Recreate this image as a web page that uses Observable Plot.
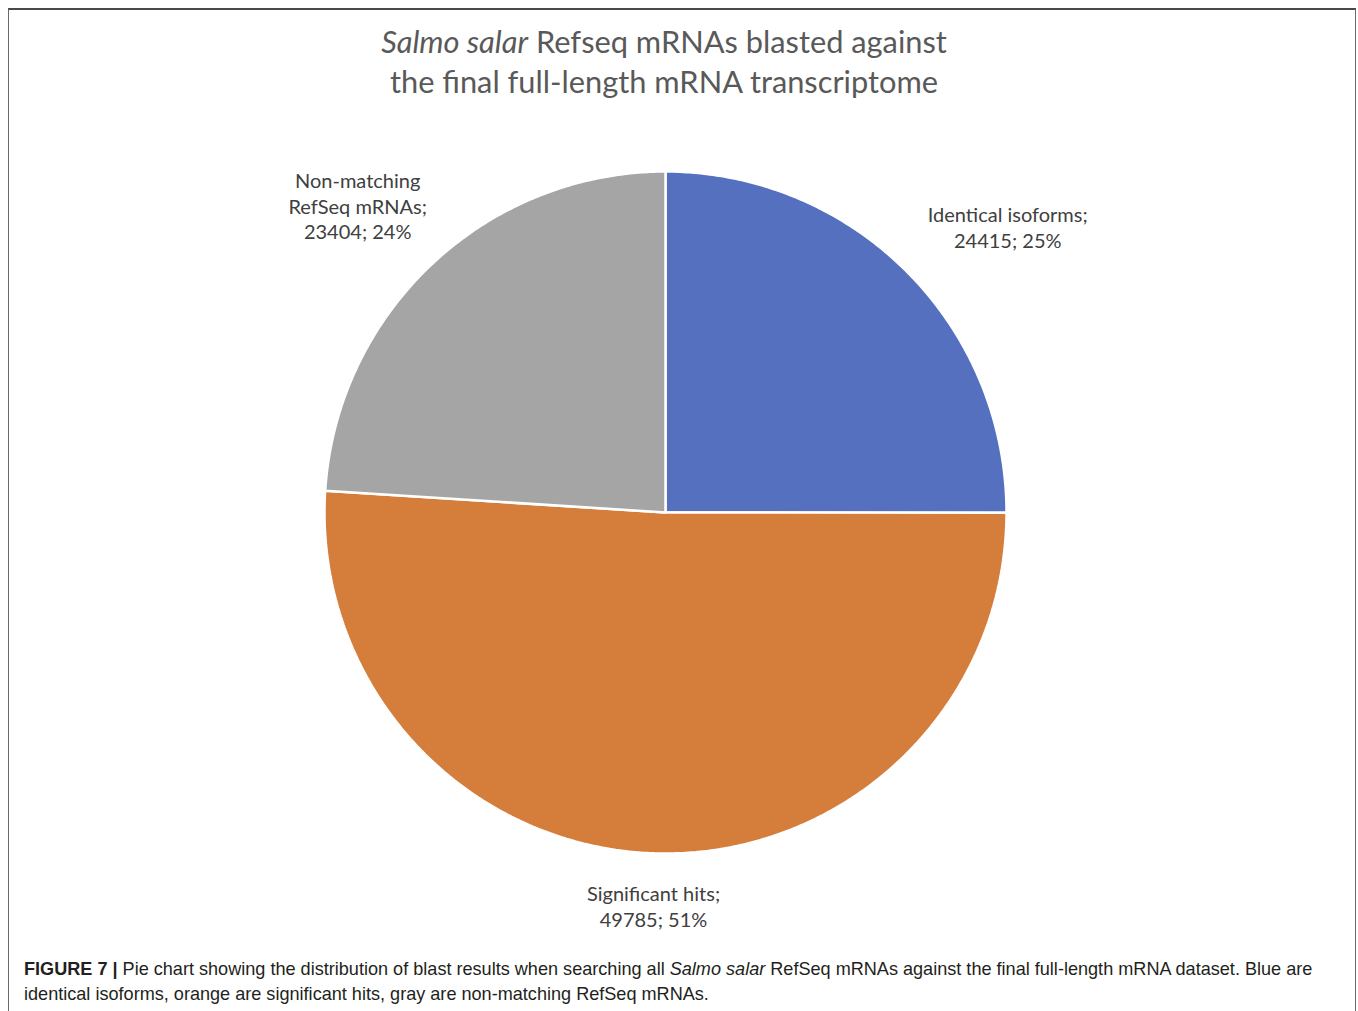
<!DOCTYPE html>
<html>
<head>
<meta charset="utf-8">
<script src="https://cdn.jsdelivr.net/npm/d3@7"></script>
<script src="https://cdn.jsdelivr.net/npm/@observablehq/plot@0.6"></script>
<style>
  html, body { margin: 0; padding: 0; background: #fff; }
  body { width: 1358px; height: 1011px; position: relative; overflow: hidden; }
  #frame { position: absolute; left: 8px; top: 8px; width: 1348px; height: 1020px;
           border: 1.5px solid #6a6a6a; border-top: 2px solid #4a4a4a; border-bottom: none; box-sizing: border-box; }
  #title { position: absolute; left: 0; top: 22px; width: 1328px; text-align: center;
           font-family: Lato, "Open Sans", sans-serif; font-size: 30.8px; line-height: 40px; color: #595959; }
  #chart { position: absolute; left: 0; top: 120px; }
  #caption { position: absolute; left: 24px; top: 957px; width: 1300px;
             font-family: "Liberation Sans", Arial, sans-serif; font-size: 18.1px; line-height: 25px; color: #231f20; }
</style>
</head>
<body>
<div id="frame"></div>
<div id="title"><i>Salmo salar</i> Refseq mRNAs blasted against<br>the final full-length mRNA transcriptome</div>
<div id="chart"></div>
<div id="caption"><b>FIGURE 7 |</b> Pie chart showing the distribution of blast results when searching all <i>Salmo salar</i> RefSeq mRNAs against the final full-length mRNA dataset. Blue are<br>identical isoforms, orange are significant hits, gray are non-matching RefSeq mRNAs.</div>
<script>
const categories = ["Identical isoforms", "Significant hits", "Non-matching RefSeq mRNAs"];
const counts = [24415, 49785, 23404];
const percents = [25, 51, 24];
const labelNames = [["Identical isoforms;"], ["Significant hits;"], ["Non-matching", "RefSeq mRNAs;"]];
const colors = ["#5670C0", "#D57D3A", "#A5A5A5"];

const arcs = d3.pie().sort(null).value(d => d)(counts);

// slice outlines in unit-circle data coordinates (angle 0 = 12 o'clock, clockwise)
const slicePts = [];
arcs.forEach((a, i) => {
  const cat = categories[i];
  slicePts.push({cat, x: 0, y: 0});
  const n = Math.max(8, Math.ceil((a.endAngle - a.startAngle) / (Math.PI / 360)));
  for (let k = 0; k <= n; k++) {
    const t = a.startAngle + (a.endAngle - a.startAngle) * k / n;
    slicePts.push({cat, x: Math.sin(t), y: Math.cos(t)});
  }
  slicePts.push({cat, x: 0, y: 0});
});

// label placement: outside end of each slice
const R = 341; // pixel radius
const labels = arcs.map((a, i) => {
  const lines = [...labelNames[i], `${counts[i]}; ${percents[i]}%`];
  const th = (a.startAngle + a.endAngle) / 2;
  const s = Math.sin(th), c = Math.cos(th);
  const r = 1.08;
  const w = d3.max(lines, l => l.length) * 8.6 / R;
  const h = lines.length * 25.5 / R;
  const sx = Math.abs(s) > 0.3 ? Math.sign(s) : 0;
  const sy = Math.abs(c) > 0.3 ? Math.sign(c) : 0;
  return {text: lines.join("\n"), x: r * s + sx * w / 2, y: r * c + sy * h / 2};
});

const W = 1358, H = 825;
const cx = 665, cy = 392;
const chart = Plot.plot({
  width: W,
  height: H,
  marginLeft: cx - R,
  marginRight: W - (cx + R),
  marginTop: cy - R,
  marginBottom: H - (cy + R),
  x: {domain: [-1, 1], axis: null},
  y: {domain: [-1, 1], axis: null},
  color: {domain: categories, range: colors},
  style: {background: "transparent"},
  marks: [
    Plot.line(slicePts, {x: "x", y: "y", z: "cat", fill: "cat", stroke: "white", strokeWidth: 2.5, strokeLinejoin: "miter", curve: "linear"}),
    Plot.text(labels, {x: "x", y: "y", text: "text", textAnchor: "middle", lineAnchor: "middle",
      fontSize: 20, lineHeight: 1.28, fill: "#404040", fontFamily: "Lato, 'Open Sans', sans-serif"})
  ]
});
document.getElementById("chart").appendChild(chart);
</script>
</body>
</html>
